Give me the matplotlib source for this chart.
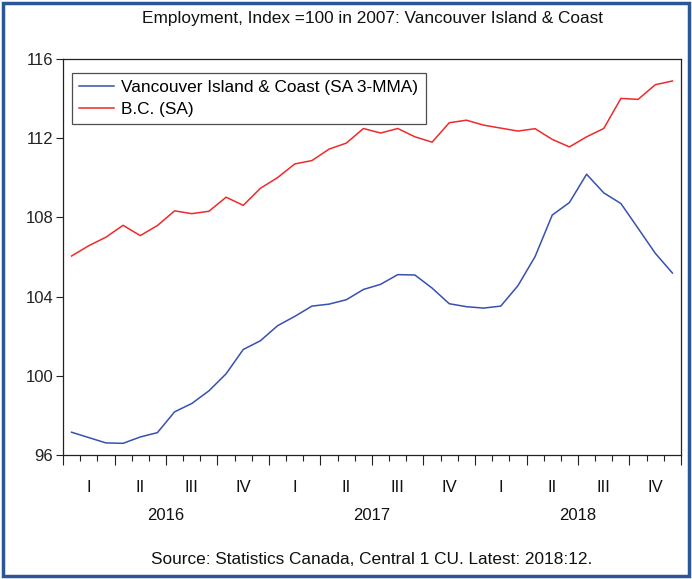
import numpy as np
import matplotlib
matplotlib.use("Agg")
import matplotlib.pyplot as plt
from matplotlib.patches import Rectangle
import matplotlib.transforms as mtransforms

plt.rcParams['font.family'] = ['Liberation Sans Narrow', 'Liberation Sans', 'DejaVu Sans']

# monthly index values, 2016:01 - 2018:12
vic_coast = [97.15, 96.88, 96.61, 96.59, 96.91, 97.13, 98.18, 98.60, 99.24, 100.10, 101.33, 101.77,
             102.53, 103.00, 103.52, 103.62, 103.84, 104.36, 104.62, 105.11, 105.09, 104.43, 103.64, 103.49,
             103.42, 103.52, 104.55, 106.02, 108.12, 108.75, 110.18, 109.24, 108.70, 107.45, 106.19, 105.19]
bc = [106.05, 106.57, 107.00, 107.60, 107.08, 107.59, 108.33, 108.19, 108.31, 109.02, 108.61, 109.47,
      110.01, 110.70, 110.87, 111.45, 111.75, 112.49, 112.26, 112.49, 112.07, 111.80, 112.78, 112.91,
      112.66, 112.51, 112.36, 112.48, 111.94, 111.56, 112.07, 112.49, 114.01, 113.96, 114.70, 114.89]
quarters = ['I', 'II', 'III', 'IV']
years = ['2016', '2017', '2018']
yticks = [96, 100, 104, 108, 112, 116]

W, H = 692, 579
fig = plt.figure(figsize=(W / 100, H / 100), dpi=100)
fig.patches.append(Rectangle((3 / W, 3 / H), (W - 6) / W, (H - 6) / H, transform=fig.transFigure,
                             fill=False, edgecolor='#2b5797', linewidth=2.5))

ax = fig.add_axes([63 / W, (H - 455) / H, 618 / W, 396 / H])
x = np.arange(len(bc)) + 0.5
ax.plot(x, vic_coast, color='#3651b0', lw=1.1, label='Vancouver Island & Coast (SA 3-MMA)')
ax.plot(x, bc, color='#ee2a2a', lw=1.1, label='B.C. (SA)')

ax.set_xlim(0, 36)
ax.set_ylim(96, 116)
ax.set_yticks(yticks)
ax.set_yticklabels([str(v) for v in yticks], fontsize=12)
ax.tick_params(axis='y', direction='out', length=5, width=0.8, colors='#222222', pad=2)

ax.set_xticks(np.arange(0, 37, 3))
ax.set_xticks(np.arange(0, 37, 1), minor=True)
ax.set_xticklabels([])
ax.tick_params(axis='x', which='major', direction='out', length=7, width=0.8, colors='#222222')
ax.tick_params(axis='x', which='minor', direction='out', length=4, width=0.8, colors='#222222')
for s in ax.spines.values():
    s.set_color('#222222')
    s.set_linewidth(0.9)

trans = mtransforms.blended_transform_factory(ax.transData, fig.transFigure)
for i in range(12):
    ax.text(i * 3 + 1.5, 1 - 487 / H, quarters[i % 4], transform=trans, ha='center', va='center',
            fontsize=12, color='#111111')
for j, yr in enumerate(years):
    ax.text(j * 12 + 6, 1 - 516 / H, yr, transform=trans, ha='center', va='center',
            fontsize=12, color='#111111')

fig.text(0.5 * (63 + 681) / W, 1 - 19 / H, 'Employment, Index =100 in 2007: Vancouver Island & Coast',
         ha='center', va='center', fontsize=12.4, color='#111111')
fig.text(0.5 * (63 + 681) / W, 1 - 560 / H, 'Source: Statistics Canada, Central 1 CU. Latest: 2018:12.',
         ha='center', va='center', fontsize=12.4, color='#111111')

leg = ax.legend(loc='upper left', bbox_to_anchor=(9 / 618, 1 - 14 / 396), fontsize=12.4,
                frameon=True, fancybox=False, handlelength=2.0, borderpad=0.42,
                labelspacing=0.38, handletextpad=0.45, borderaxespad=0)
leg.get_frame().set_edgecolor('#222222')
leg.get_frame().set_linewidth(0.9)

fig.savefig('out.png', dpi=100)
